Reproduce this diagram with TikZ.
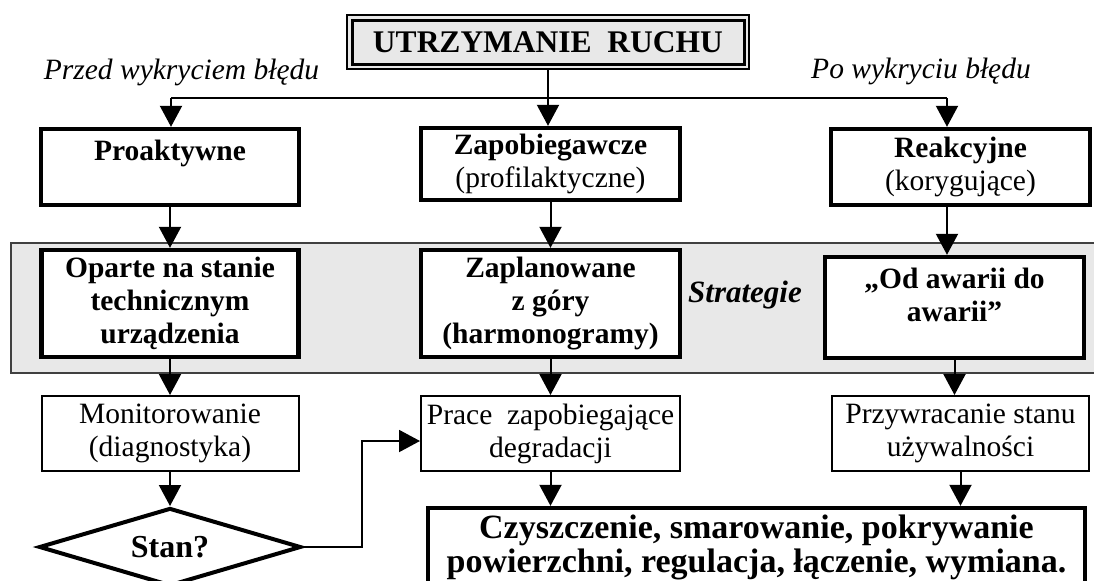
\documentclass[tikz,border=0pt]{standalone}
\usepackage{fontspec}
\setmainfont{Liberation Serif}
\usetikzlibrary{arrows.meta,shapes.geometric}
\definecolor{pasek}{HTML}{E8E8E8}
\newcommand\tekst{\fontsize{14.75}{16.5}\selectfont}

\begin{document}
\begin{tikzpicture}[x=0.5pt,y=-0.5pt,font=\tekst,
        >={Triangle[length=10.5pt,width=11pt]},
        gruby/.style={draw,rectangle,line width=2.2pt,fill=white,align=center,inner sep=2pt,font=\tekst\bfseries},
        cienki/.style={draw,rectangle,line width=1pt,fill=white,align=center,inner sep=2pt},
        linia/.style={line width=1pt}]
        \useasboundingbox (0,0) rectangle (1094,580);
        \clip (0,0) rectangle (1094,580);
        \path[draw=black!75,fill=pasek,line width=1pt] (11,243) rectangle (1110,373);

        \node[draw,rectangle,line width=0.75pt,fill=pasek,minimum width=201pt,minimum height=27pt] (URo) at (548,42) {};
        \node[draw,rectangle,line width=1.5pt,fill=pasek,minimum width=196pt,minimum height=22pt,font=\fontsize{15.75}{18}\selectfont\bfseries] (UR) at (548,42) {UTRZYMANIE\ \ RUCHU};
        \node[anchor=base,font=\tekst\itshape] (PRZED) at (181.5,79) {Przed wykryciem błędu};
        \node[anchor=base,font=\tekst\itshape] (PO) at (921,78) {Po wykryciu błędu};

        \node[gruby,minimum width=129pt,minimum height=38pt] (PRO) at (170,167) {Proaktywne\\\mbox{}};
        \node[gruby,minimum width=129.5pt,minimum height=36pt] (ZAP) at (550.5,164) {Zapobiegawcze\\{\mdseries(profilaktyczne)}};
        \node[gruby,minimum width=129.5pt,minimum height=38pt] (REA) at (960.5,167) {Reakcyjne\\{\mdseries(korygujące)}};

        \node[gruby,minimum width=128.5pt,minimum height=53.5pt] (OPA) at (170,303.5) {Oparte na stanie\\technicznym\\urządzenia};
        \node[gruby,minimum width=129.5pt,minimum height=53.5pt] (ZPL) at (550.5,303.5) {Zaplanowane\\z góry\\(harmonogramy)};
        \node[font=\fontsize{15.5}{18}\selectfont\bfseries\itshape] (STR) at (745,295) {Strategie};
        \node[gruby,minimum width=129.5pt,minimum height=50.5pt] (ODA) at (954.5,307.5) {„Od awarii do\\awarii”\\[-4pt]\mbox{}};

        \node[cienki,minimum width=128.5pt,minimum height=37.5pt] (MON) at (170,433.5) {Monitorowanie\\(diagnostyka)};
        \node[cienki,minimum width=129.5pt,minimum height=37.5pt] (PRA) at (550.5,433.5) {Prace\ \ zapobiegające\\degradacji};
        \node[cienki,minimum width=128.5pt,minimum height=37.5pt] (PRZ) at (960.5,433.5) {Przywracanie stanu\\używalności};

        \node[draw,diamond,aspect=3.3,line width=2pt,fill=white,minimum width=131pt,minimum height=39pt,inner sep=0pt,font=\fontsize{16}{18}\selectfont\bfseries] (STAN) at (170,547) {Stan?};
        \node[gruby,minimum width=328.5pt,minimum height=39pt,font=\fontsize{17}{17}\selectfont\bfseries] (CZY) at (756.5,547) {Czyszczenie, smarowanie, pokrywanie\\powierzchni, regulacja, łączenie, wymiana.};

        \coordinate (JL) at (171,98);
        \coordinate (JR) at (947,98);
        \path [draw,linia] (JL) -- (JR);
        \path [draw,linia,->] (URo.south) -- (URo.south |- ZAP.north);
        \path [draw,linia,->] (JL) -- (JL |- PRO.north);
        \path [draw,linia,->] (JR) -- (JR |- REA.north);
        \path [draw,linia,->] (PRO.south) -- (PRO.south |- OPA.north);
        \path [draw,linia,->] (ZAP.south) -- (ZAP.south |- ZPL.north);
        \path [draw,linia,->] (JR |- REA.south) -- (JR |- ODA.north);
        \path [draw,linia,->] (OPA.south) -- (OPA.south |- MON.north);
        \path [draw,linia,->] (ZPL.south) -- (ZPL.south |- PRA.north);
        \path [draw,linia,->] (ODA.south) -- (ODA.south |- PRZ.north);
        \path [draw,linia,->] (MON.south) -- (STAN.north);
        \path [draw,linia,->] (PRA.south) -- (PRA.south |- CZY.north);
        \path [draw,linia,->] (PRZ.south) -- (PRZ.south |- CZY.north);
        \path [draw,linia,->] (STAN.east) -- ++(59,0) |- ([yshift=-3.75pt]PRA.west);
    \end{tikzpicture}
\end{document}
